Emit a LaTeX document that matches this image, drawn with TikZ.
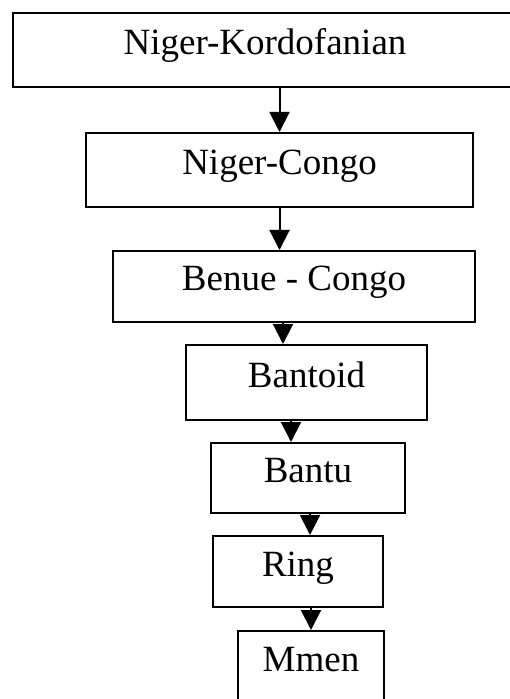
\documentclass[tikz,border=0pt]{standalone}
\usepackage{fontspec}
\setmainfont{Liberation Serif}
\usetikzlibrary{arrows.meta}

\tikzset{
  lang/.style={draw,line width=1pt,inner sep=0pt,text height=.69em,text depth=.24em,
    font=\fontsize{18.5}{22}\selectfont},
  sub/.style={-{Triangle[length=10pt,width=10pt]},line width=1pt}
}

\begin{document}
\begin{tikzpicture}[x=.5pt,y=-.5pt]
    \useasboundingbox (0,0) rectangle (509,699);
    \node[lang,minimum width=252pt,minimum height=37pt] (NK) at (265,50) {Niger-Kordofanian};
    \node[lang,minimum width=193.5pt,minimum height=37pt] (NC) at (279.5,170) {Niger-Congo};
    \node[lang,minimum width=181pt,minimum height=35.5pt] (BC) at (294,286.5) {Benue - Congo};
    \node[lang,minimum width=120.5pt,minimum height=37.5pt] (BD) at (306.5,382.5) {Bantoid};
    \node[lang,minimum width=97pt,minimum height=35pt] (BT) at (308,478) {Bantu};
    \node[lang,minimum width=85pt,minimum height=35.5pt] (RG) at (298,571.5) {Ring};
    \node[lang,minimum width=73pt,minimum height=35.5pt] (MM) at (311,666.5) {Mmen};
%    arrows sit a bit off the box centres
    \draw[sub] (NK.south -| NC.north) -- (NC.north);
    \draw[sub] (NC.south) -- (BC.north -| NC.south);
    \draw[sub] (BC.south -| 283,0) -- (BD.north -| 283,0);
    \draw[sub] (BD.south -| 291,0) -- (BT.north -| 291,0);
    \draw[sub] (BT.south -| 310,0) -- (RG.north -| 310,0);
    \draw[sub] (RG.south -| MM.north) -- (MM.north);
\end{tikzpicture}
\end{document}
